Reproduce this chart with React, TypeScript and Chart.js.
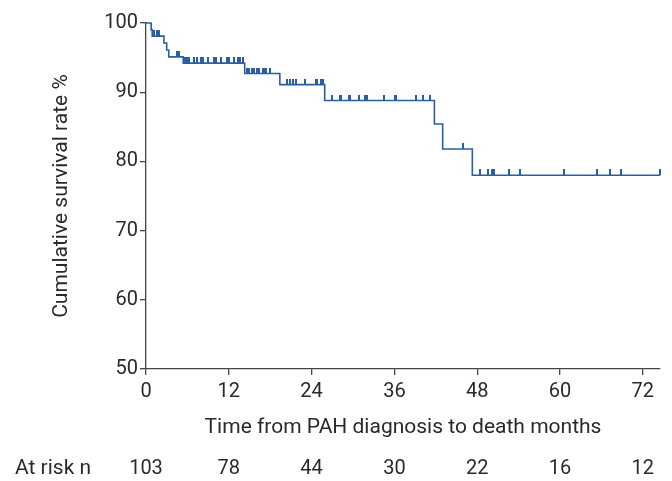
import React, { useEffect, useRef } from "react";
import { Chart, registerables } from "chart.js";

Chart.register(...registerables);

// Kaplan–Meier step points (time in months, cumulative survival %)
const stepTimes = [0, 0.75, 0.9, 2.6, 3.0, 3.3, 5.4, 14.3, 19.4, 25.9, 41.8, 43.0, 47.3, 74.5];
const survival = [100, 99.0, 98.1, 97.1, 96.1, 95.1, 94.2, 92.7, 91.1, 88.8, 85.4, 81.8, 78.0, 78.0];

// Censored observations (months)
const censorTimes = [
  1.2, 1.55, 1.9, 4.55, 4.8, 5.6, 5.8, 6.0, 6.3, 6.9, 7.4, 8.0, 8.3, 9.0, 9.9, 10.2, 10.8,
  11.8, 12.1, 12.7, 13.3, 13.6, 14.0, 14.7, 15.0, 15.4, 15.7, 16.1, 16.4, 16.9, 17.1, 17.4,
  18.0, 20.5, 20.8, 21.3, 21.8, 23.0, 24.6, 24.8, 25.4, 25.7, 26.9, 28.1, 28.3, 29.4, 29.6,
  30.9, 31.8, 32.0, 34.5, 36.1, 36.3, 39.1, 40.1, 41.2, 46.0, 48.4, 49.5, 50.2, 50.5, 52.6,
  54.2, 60.6, 65.4, 67.3, 68.9, 74.5,
];

const xTicks = [0, 12, 24, 36, 48, 60, 72];
const yTicks = [50, 60, 70, 80, 90, 100];
const atRisk = [103, 78, 44, 30, 22, 16, 12];

const xMax = 74.5;
const LINE = "#2b5ea3";
const AXIS = "#454545";
const TEXT = "#2a2a2a";
const FONT = "Roboto";

function levelAt(t: number): number {
  let v = survival[0];
  for (let i = 0; i < stepTimes.length; i++) {
    if (stepTimes[i] <= t) v = survival[i];
  }
  return v;
}

export default function App() {
  const ref = useRef<HTMLCanvasElement | null>(null);

  useEffect(() => {
    if (!ref.current) return;
    document.body.style.margin = "0";

    const mark = document.createElement("canvas");
    mark.width = 2;
    mark.height = 12;
    const mctx = mark.getContext("2d")!;
    mctx.fillStyle = LINE;
    mctx.fillRect(0, 0, 2, 6);

    const atRiskPlugin = {
      id: "atRisk",
      afterDraw(chart: any) {
        const ctx = chart.ctx;
        const xs = chart.scales.x;
        ctx.save();
        ctx.fillStyle = TEXT;
        ctx.textBaseline = "middle";
        ctx.textAlign = "left";
        ctx.font = `21px ${FONT}`;
        ctx.fillText("At risk n", 15, 469);
        ctx.textAlign = "center";
        ctx.font = `20px ${FONT}`;
        atRisk.forEach((n, i) => {
          ctx.fillText(String(n), xs.getPixelForValue(xTicks[i]), 469);
        });
        ctx.restore();
      },
    };

    const chart = new Chart(ref.current, {
      type: "line",
      data: {
        datasets: [
          {
            type: "line",
            data: stepTimes.map((t, i) => ({ x: t, y: survival[i] })),
            stepped: true,
            borderColor: LINE,
            borderWidth: 1.6,
            pointRadius: 0,
            fill: false,
            clip: false as any,
          },
          {
            type: "scatter",
            data: censorTimes.map((t) => ({ x: t, y: levelAt(t) })),
            pointStyle: mark as any,
            pointRadius: 3,
            showLine: false,
            clip: false as any,
          } as any,
        ],
      },
      options: {
        animation: false,
        responsive: false,
        events: [],
        layout: { padding: { top: 23, right: 12, left: 0, bottom: 0 } },
        plugins: { legend: { display: false }, tooltip: { enabled: false } },
        scales: {
          x: {
            type: "linear",
            min: 0,
            max: xMax,
            afterBuildTicks: (s: any) => {
              s.ticks = xTicks.map((v) => ({ value: v }));
            },
            afterFit: (s: any) => {
              s.height = 112;
            },
            ticks: {
              font: { family: FONT, size: 20 },
              color: TEXT,
              padding: 5,
              maxRotation: 0,
              autoSkip: false,
            },
            grid: { drawOnChartArea: false, drawTicks: true, tickLength: 6, color: AXIS, lineWidth: 1.3 },
            border: { color: AXIS, width: 1.3 },
            title: {
              display: true,
              text: "Time from PAH diagnosis to death months",
              font: { family: FONT, size: 21 },
              color: TEXT,
              padding: { top: 0, bottom: 41 },
            },
          },
          y: {
            type: "linear",
            min: 50,
            max: 100,
            afterBuildTicks: (s: any) => {
              s.ticks = yTicks.map((v) => ({ value: v }));
            },
            afterFit: (s: any) => {
              s.width = 146;
            },
            ticks: {
              font: { family: FONT, size: 20 },
              color: TEXT,
              padding: 2,
            },
            grid: { drawOnChartArea: false, drawTicks: true, tickLength: 6, color: AXIS, lineWidth: 1.3 },
            border: { color: AXIS, width: 1.3 },
            title: {
              display: true,
              text: "Cumulative survival rate %",
              font: { family: FONT, size: 21 },
              color: TEXT,
              padding: { top: 49, bottom: 0 },
            },
          },
        },
      },
      plugins: [atRiskPlugin],
    });

    return () => chart.destroy();
  }, []);

  return (
    <div style={{ position: "fixed", left: 0, top: 0, width: 672, height: 481 }}>
      <canvas ref={ref} width={672} height={481} style={{ display: "block" }} />
    </div>
  );
}
